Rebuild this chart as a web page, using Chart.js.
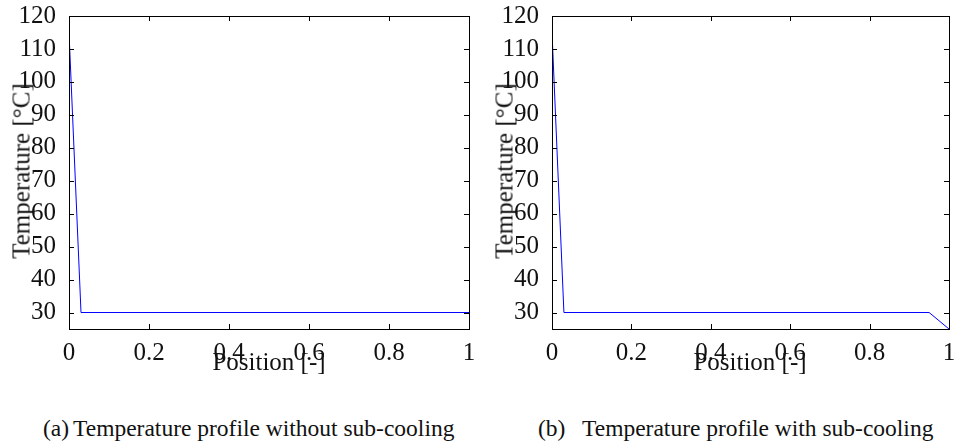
<!DOCTYPE html>
<html>
<head>
<meta charset="UTF-8">
<title>Temperature profiles</title>
<script src="https://cdn.jsdelivr.net/npm/chart.js"></script>
<style>
    body { margin: 0; background: #fff; width: 954px; height: 445px; position: relative; overflow: hidden; }
    .painel { position: absolute; top: 0; }
    .txt { position: absolute; font-family: 'Liberation Serif', 'DejaVu Serif', serif; color: #111; white-space: nowrap; }
    .eixo-y { font-size: 25px; line-height: 25px; transform: translate(-50%, -50%) rotate(-90deg); }
    .eixo-x { font-size: 25px; line-height: 25px; transform: translateX(-50%); }
    .legenda { font-size: 23.5px; line-height: 23px; }
</style>
</head>
<body>

<div class="painel" style="left:0px"><canvas id="graficoA" width="480" height="380"></canvas></div>
<div class="painel" style="left:483px"><canvas id="graficoB" width="471" height="380"></canvas></div>

<div class="txt eixo-y" style="left:21px; top:171px">Temperature [°C]</div>
<div class="txt eixo-x" style="left:269px; top:349px">Position [-]</div>
<div class="txt eixo-y" style="left:504px; top:171px">Temperature [°C]</div>
<div class="txt eixo-x" style="left:750px; top:349px">Position [-]</div>

<div class="txt legenda" style="left:43px; top:417px">(a)</div>
<div class="txt legenda" style="left:73px; top:417px">Temperature profile without sub-cooling</div>
<div class="txt legenda" style="left:538px; top:417px">(b)</div>
<div class="txt legenda" style="left:582px; top:417px">Temperature profile with sub-cooling</div>

<script>
    // dados
    const posA = [0, 0.03, 1];
    const tempA = [115, 30, 30];
    const posB = [0, 0.03, 0.95, 1];
    const tempB = [115, 30, 30, 25];

    const xTicks = [0, 0.2, 0.4, 0.6, 0.8, 1];
    const xTickLabels = ['0', '0.2', '0.4', '0.6', '0.8', '1'];
    const yTicks = [30, 40, 50, 60, 70, 80, 90, 100, 110, 120];
    const yTickLabels = ['30', '40', '50', '60', '70', '80', '90', '100', '110', '120'];

    // moldura com ticks para dentro, nos quatro lados
    const moldura = {
        id: 'moldura',
        afterDraw(chart) {
            const ctx = chart.ctx;
            const a = chart.chartArea;
            const sx = chart.scales.x;
            const sy = chart.scales.y;
            const t = 5;
            ctx.save();
            ctx.strokeStyle = '#000';
            ctx.lineWidth = 1;
            ctx.beginPath();
            xTicks.forEach(v => {
                const px = Math.round(sx.getPixelForValue(v)) + 0.5;
                ctx.moveTo(px, a.bottom); ctx.lineTo(px, a.bottom - t);
                ctx.moveTo(px, a.top); ctx.lineTo(px, a.top + t);
            });
            yTicks.forEach(v => {
                const py = Math.round(sy.getPixelForValue(v)) + 0.5;
                ctx.moveTo(a.left, py); ctx.lineTo(a.left + t, py);
                ctx.moveTo(a.right, py); ctx.lineTo(a.right - t, py);
            });
            ctx.stroke();
            ctx.strokeRect(Math.round(a.left) + 0.5, Math.round(a.top) + 0.5,
                Math.round(a.right - a.left), Math.round(a.bottom - a.top));
            ctx.restore();
        }
    };

    function criarGrafico(id, xs, ys, padDireita) {
        const pontos = xs.map((x, i) => ({ x: x, y: ys[i] }));
        const fonte = { family: "'Liberation Serif', 'DejaVu Serif', serif", size: 25, lineHeight: 1 };

        return new Chart(document.getElementById(id), {
            type: 'line',
            data: {
                datasets: [{
                    data: pontos,
                    borderColor: '#0000ff',
                    borderWidth: 1,
                    pointRadius: 0,
                    fill: false,
                    tension: 0
                }]
            },
            options: {
                responsive: false,
                animation: false,
                events: [],
                layout: { padding: { left: 0, top: 16, right: padDireita, bottom: 0 } },
                plugins: { legend: { display: false }, tooltip: { enabled: false } },
                scales: {
                    x: {
                        type: 'linear',
                        min: 0,
                        max: 1,
                        grid: { display: false },
                        border: { display: false },
                        afterBuildTicks: s => { s.ticks = xTicks.map(v => ({ value: v })); },
                        afterFit: s => { s.height = 51; s.paddingLeft = 0; s.paddingRight = 0; },
                        ticks: {
                            font: fonte,
                            color: '#111',
                            padding: 4,
                            maxRotation: 0,
                            autoSkip: false,
                            callback: (v, i) => xTickLabels[i]
                        }
                    },
                    y: {
                        type: 'linear',
                        min: 25,
                        max: 120,
                        grid: { display: false },
                        border: { display: false },
                        afterBuildTicks: s => { s.ticks = yTicks.map(v => ({ value: v })); },
                        afterFit: s => { s.width = 69; s.paddingTop = 0; s.paddingBottom = 0; },
                        ticks: {
                            font: fonte,
                            color: '#111',
                            padding: 5,
                            autoSkip: false,
                            callback: (v, i) => yTickLabels[i]
                        }
                    }
                }
            },
            plugins: [moldura]
        });
    }

    criarGrafico('graficoA', posA, tempA, 11);
    criarGrafico('graficoB', posB, tempB, 5);
</script>
</body>
</html>
